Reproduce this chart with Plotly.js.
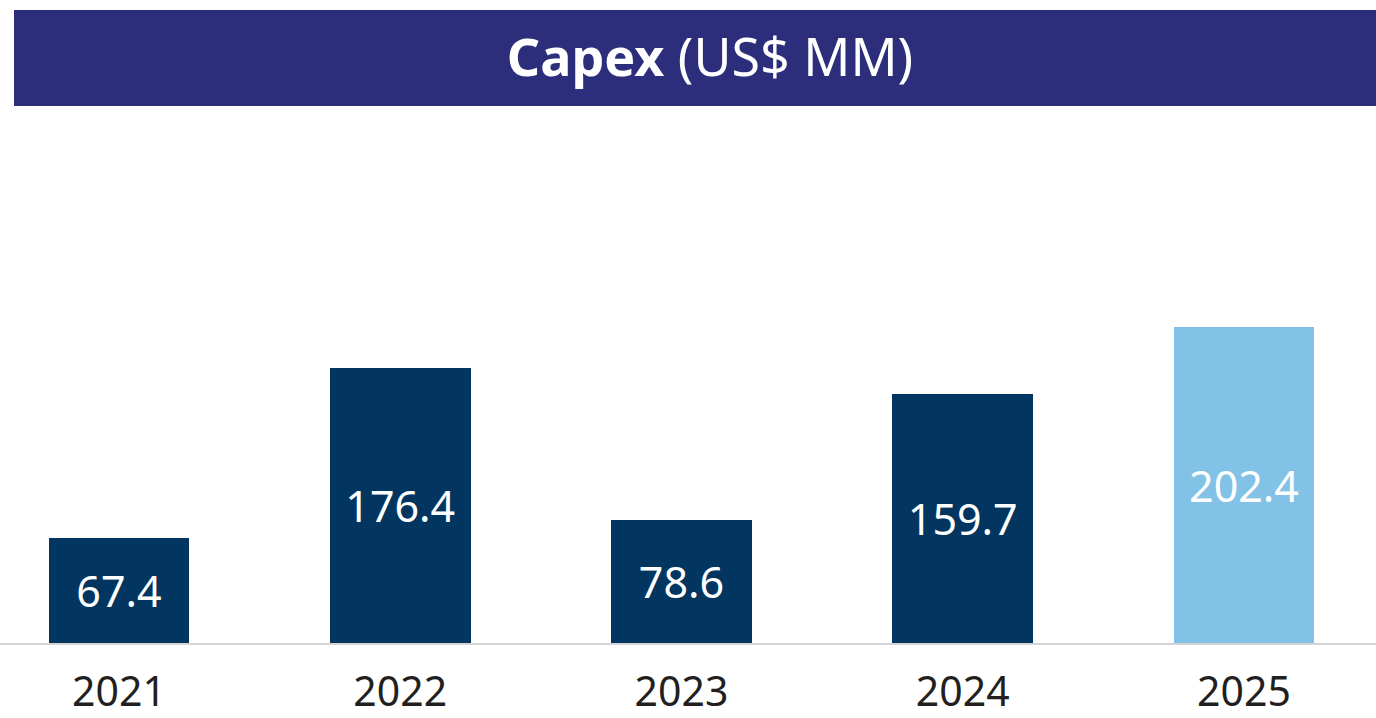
<!DOCTYPE html>
<html>
<head>
<meta charset="utf-8">
<script src="https://cdn.plot.ly/plotly-3.0.1.min.js"></script>
<style>html,body{margin:0;padding:0;background:#fff;}#chart{width:1376px;height:718px;}</style>
</head>
<body>
<div id="chart"></div>
<script>
const years = ['2021', '2022', '2023', '2024', '2025'];
const capex = [67.4, 176.4, 78.6, 159.7, 202.4];
const barColors = ['#02355F', '#02355F', '#02355F', '#02355F', '#82C2E6'];
const labels = capex.map(v => v.toFixed(1));

const trace = {
  type: 'bar',
  x: [0, 1, 2, 3, 4],
  y: capex,
  width: 0.5,
  marker: {color: barColors, line: {width: 0}},
  text: labels,
  textposition: 'inside',
  insidetextanchor: 'middle',
  textangle: 0,
  constraintext: 'none',
  textfont: {family: 'Noto Sans, sans-serif', size: 43, color: '#ffffff'},
  hoverinfo: 'none'
};

const layout = {
  width: 1376, height: 718,
  margin: {l: 0, r: 0, t: 110, b: 75, pad: 0},
  paper_bgcolor: '#ffffff', plot_bgcolor: '#ffffff',
  showlegend: false,
  title: {
    text: '<b>Capex</b> (US$ MM)',
    x: 0.516, xanchor: 'center', xref: 'paper',
    y: 1 - 58/718, yanchor: 'middle', yref: 'container',
    font: {family: 'Noto Sans, sans-serif', size: 52, color: '#ffffff'}
  },
  xaxis: {
    range: [-0.4231, 4.4693],
    tickmode: 'array', tickvals: [0, 1, 2, 3, 4], ticktext: years,
    showgrid: false, zeroline: false,
    showline: true, linecolor: '#d4d4d4', linewidth: 2,
    ticks: '', ticklen: 0,
    ticklabelstandoff: 12,
    tickfont: {family: 'Noto Sans, sans-serif', size: 41, color: '#231F20'},
    fixedrange: true
  },
  yaxis: {
    range: [0, 341.9],
    showgrid: false, zeroline: false, showline: false,
    showticklabels: false, ticks: '', fixedrange: true
  },
  shapes: [{
    type: 'rect', xref: 'paper', yref: 'paper',
    x0: 14/1376, x1: 1, y0: (643-106)/533, y1: (643-10)/533,
    fillcolor: '#2C2E7C', line: {width: 0}, layer: 'below'
  }],
  bargap: 0
};

Plotly.newPlot('chart', [trace], layout, {displayModeBar: false, staticPlot: true});
</script>
</body>
</html>
